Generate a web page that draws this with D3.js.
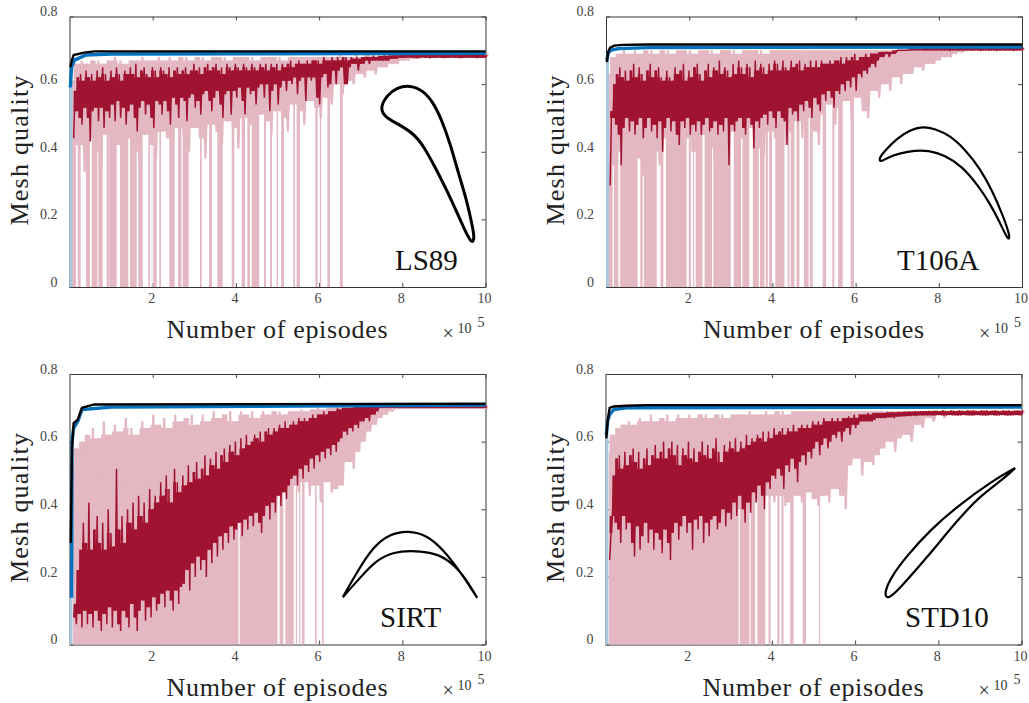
<!DOCTYPE html>
<html><head><meta charset="utf-8">
<script src="https://cdn.jsdelivr.net/npm/d3@7/dist/d3.min.js"></script>
<style>html,body{margin:0;background:#fff}svg{display:block}</style></head>
<body><div id="chart"></div>
<script>
const xTicks=[2,4,6,8,10];
const yTicks=[0,0.2,0.4,0.6,0.8];
const yTickLabels=["0","0.2","0.4","0.6","0.8"];
const names=["LS89","T106A","SIRT","STD10"];
const xLabel="Number of episodes", yLabel="Mesh quality";

// values in hundredths of mesh quality; bins run evenly over episodes 0.1..10 (x1e5)
const ls89DarkUpper=[58,62,63,61,64,62,63,61,64,62,65,63,61,64,62,65,63,61,64,63,
65,63,66,62,64,65,63,62,65,64,62,65,64,63,65,62,64,65,63,64,
65,63,64,66,64,65,63,65,66,64,65,66,64,65,63,66,65,64,66,65,
64,66,65,64,66,65,64,66,65,66,64,66,65,66,64,66,65,66,67,65,
66,67,66,66,67,66,67,67,67,66,68,67,67,68,67,68,67,68,68,67,
68,67.5,68,67.5,68,68,68,68,68.3,68,68.4,68.3,68.5,68.3,68.5,68.5,68.6,68.5,68.6,68.6,
68.6,68.6,68.7,68.6,68.6,68.6,68.7,68.6,68.6,68.6,68.7,68.6,68.6,68.7,68.6,68.6,68.6,68.7,68.6,68.6,
68.6,68.7,68.6,68.6,68.6,68.7,68.6,68.6,68.6,68.6];
const ls89DarkLower=[44,52,50,48,53,50,43,52,53,49,53,47,52,50,54,49,55,50,53,48,
52,54,50,46,53,55,51,54,50,47,55,54,51,55,52,48,56,54,50,56,
55,49,56,57,53,55,51,57,58,55,52,56,58,54,50,57,58,51,58,56,
59,55,51,59,57,58,54,59,60,56,60,52,58,60,54,59,61,58,61,60,
62,57,61,62,55,62,61,62,56,54,62,63,59,60,64,60,64,65,60,60,
65,66,66,64,66,66,67,66,67,67,67,67,67,67,67,67.5,67.5,67.5,67.8,67.8,
67.8,67.9,67.8,67.8,67.7,67.8,67.9,67.8,67.8,67.7,67.8,67.8,67.9,67.8,67.7,67.8,67.8,67.9,67.8,67.8,
67.7,67.8,67.8,67.9,67.8,67.8,67.7,67.8,67.8,67.8];
const ls89LightUpper=[66,67,66,67,67,66,67,68,67,66,67,67,68,67,67,68,67,68,67,68,
68,67,68,68,67,68,68,68,67,68,68,68,68,67,68,68,68,68,67,68,
68,68,68,68,68,68,68,68,69,68,68,69,68,69,69,68,69,69,69,69,
69,69,69,69,69,69,69,69,69,69,69,69,69,69,69,69];
const ls89LightLower=[38,42,34,44,40,36,45,38,42,35,44,40,36,45,42,38,46,44,37,47,
45,40,47,44,38,48,46,42,49,47,41,50,48,44,51,49,45,52,50,46,
54,52,48,55,53,50,56,54,60,57,61,60,63,62,64,63,65,65,66,66,
67,67,67.5,67.5,67.8,67.8,67.8,67.8,67.8,67.8,67.8,67.8,67.8,67.8,67.8,67.8];
const ls89Drops=[[.06,.156],[.197,.269],[.397,.493],[.533,.669],[.693,.798],[.894,.95],[.957,1.134],[1.214,1.414],[1.454,1.615],[1.654,1.76],[1.895,1.935],[1.976,1.99],[2.015,2.096],[2.159,2.2],[2.4,2.53],[2.61,2.69],[2.72,2.865],[3.137,3.178],[3.353,3.425],[3.553,3.683],[3.9,3.962],[4.139,4.219],[4.275,4.339],[4.38,4.56],[4.675,4.724],[4.82,4.868],[4.98,5.012],[5.09,5.156],[5.38,5.42],[5.46,5.54],[5.91,5.965],[6.02,6.05],[6.2,6.26],[6.5,6.57]];
const ls89BlackX=[0.02,0.06,0.1,0.35,0.6,10], ls89BlackY=[.65,.672,.686,.693,.697,.697];
const ls89BlueX=[0.02,0.05,0.12,0.4,1,10], ls89BlueY=[.59,.65,.671,.686,.689,.691];
const ls89Foil=[[7.46,.529],[7.63,.567],[7.87,.59],[8.19,.597],[8.5,.581],[8.75,.545],[8.95,.493],[9.15,.425],[9.35,.336],[9.55,.256],[9.67,.188],[9.74,.145],[9.68,.128],[9.55,.155],[9.31,.222],[9.07,.286],[8.83,.345],[8.5,.42],[8.26,.455],[7.87,.484],[7.58,.503]];

const t106DarkUpper=[52,60,63,65,62,64,61,64,66,62,65,63,61,64,66,62,64,65,62,61,
64,62,61,65,63,64,66,61,64,62,65,66,63,61,64,66,62,65,64,67,
63,65,64,62,66,63,67,65,63,66,65,62,67,64,66,65,63,66,64,67,
66,64,67,65,64,67,65,66,67,64,66,65,67,65,67,65,67,66,66,67,
66,67,67,68,66,68,67,68,69,67,68,68,69,68,69,69,69,69.5,69.5,69.5,
69.5,69.5,70,69.5,70,70,70,70,70.5,70.5,70.5,70.6,70.5,70.6,70.6,70.7,70.6,70.7,70.7,70.7,
70.8,70.7,70.8,70.8,70.7,70.8,70.8,70.8,70.7,70.8,70.8,70.8,70.7,70.8,70.8,70.8,70.8,70.7,70.8,70.8,
70.8,70.8,70.7,70.8,70.8,70.8,70.8,70.7,70.8,70.8];
const t106DarkLower=[30,50,48,45,36,47,50,46,49,45,48,50,44,47,50,46,48,44,49,40,
47,50,46,49,45,42,49,47,50,45,48,46,49,45,48,50,46,47,49,45,
48,46,50,36,48,46,49,50,47,45,50,48,41,49,47,50,51,48,52,50,
47,52,50,49,42,53,51,52,49,54,52,55,53,50,56,54,52,57,55,58,
56,53,58,57,60,58,61,59,62,58,63,62,64,63,65,66,65,67,68,68,
69,68,69,69,70,70,70,70,70,70,70,70,70,70,69.9,70,70,69.9,70,70,
69.9,70,70,69.8,70,70,69.9,70,69.8,70,70,69.9,70,70,69.8,70,70,69.9,70,70,
69.8,70,70,69.9,70,70,69.8,70,70,70];
const t106LightUpper=[68,69,70,69,70,69,70,70,69,70,70,69,70,70,70,69,70,70,70,69,
70,70,70,69,70,70,70,70,69,70,70,70,70,70,70,70,70,70,70,70,
70,70,70,70,70,70,70,70,70,70,70,70,70,70,70,70,70,70,70.5,70.5,
70.5,70.5,70.5,70.5,70.5,70.5,70.5,70.5,70.5,70.5,70.5,70.5,70.5,70.5,70.5,70.5];
const t106LightLower=[30,36,40,34,42,38,33,44,40,36,44,38,42,36,44,40,38,45,41,37,
44,40,46,38,44,42,47,41,39,46,44,48,42,46,49,44,50,46,42,51,
54,48,53,55,50,56,52,50,58,56,60,58,62,60,63,63,65,64,66,66,
67,68,68,69,69.5,70,70,70,70,70,70,70,70,70,70,70];
const t106Drops=[[0,.16],[.19,.30],[.34,.76],[.825,.88],[.91,1.22],[1.31,1.38],[1.44,1.94],[1.99,2.04],[2.09,2.12],[2.155,2.32],[2.37,2.55],[2.58,3.0],[3.07,3.245],[3.28,3.445],[3.53,3.67],[3.70,3.81],[3.84,3.89],[3.92,3.99],[4.07,4.29],[4.37,4.41],[4.44,4.53],[4.58,4.65],[4.76,4.87],[4.90,4.97],[5.21,5.29],[5.44,5.49],[5.58,5.69],[5.88,5.96]];
const t106BlackX=[0.02,0.05,0.1,0.2,0.4,1,10], t106BlackY=[.665,.695,.708,.714,.716,.717,.717];
const t106BlueX=[0.02,0.05,0.1,0.3,1,10], t106BlueY=[.67,.69,.70,.705,.708,.71];
const t106Foil=[[6.56,.381],[6.71,.404],[7,.44],[7.31,.464],[7.6,.475],[7.91,.468],[8.27,.448],[8.63,.407],[8.99,.351],[9.28,.286],[9.54,.212],[9.73,.145],[9.66,.138],[9.47,.191],[9.23,.247],[8.94,.301],[8.56,.357],[8.15,.39],[7.74,.404],[7.43,.404],[7.07,.396],[6.78,.384],[6.59,.368]];

const sirtDarkUpper=[12,22,28,36,30,42,28,34,38,30,36,28,40,33,29,52,34,38,30,40,
36,42,34,44,38,42,36,46,40,44,42,48,44,50,46,42,52,48,45,50,
47,53,48,51,54,49,52,56,50,55,53,57,52,56,58,54,59,57,60,56,
61,58,62,59,60,62,61,63,60,63,64,62,64,63,65,64,66,64,65,66,
65,67,66,67,66,67,68,67,68,68,69,68,69,69,69,70,69.5,70,70,70,
70,70.5,70.3,70.5,70.5,70.6,70.5,70.6,70.6,70.6,70.6,70.6,70.5,70.6,70.6,70.6,70.6,70.6,70.6,70.6,
70.6,70.6,70.5,70.6,70.6,70.6,70.6,70.6,70.5,70.6,70.6,70.6,70.6,70.6,70.6,70.6,70.5,70.6,70.6,70.6,
70.6,70.6,70.6,70.5,70.6,70.6,70.6,70.6,70.6,70.6];
const sirtDarkLower=[8,6,9,5,10,6,9,5,10,7,4,9,6,11,5,10,6,4,10,8,
5,12,8,4,10,13,7,11,8,14,10,12,15,11,16,13,10,16,12,17,
18,22,16,24,20,26,22,25,20,28,24,30,26,32,28,33,30,35,31,34,
36,32,37,34,38,35,39,36,33,38,41,37,42,39,44,41,45,43,47,49,
50,47,52,49,53,51,55,52,56,54,57,55,58,56,59,57,60,61,63,62,
64,63,65,64,66,66,67,66,68,68,69,70,70,70,70,70,70,70,70,70,
70,70,70,70,70,70,70,70,70,70,70,70,70,70,70,70,70,70,70,70,
70,70,70,70,70,70,70,70,70,70];
const sirtLightUpper=[58,60,62,64,61,66,62,65,63,67,64,62,66,64,68,65,67,64,68,66,
67,68,65,68,66,69,67,68,69,66,69,68,69,67,69,68,69,69,68,69,
69,69.5,69,69.5,70,69.5,70,70,70,70,70,70,70,70,70,70,70,70,70,70,
70,70,70,70,70,70,70,70,70,70,70,70,70,70,70,70];
const sirtLightLower=[30,30,30,30,30,30,30,30,30,30,30,30,30,30,30,30,30,30,30,30,
30,30,30,30,30,30,30,30,30,30,40,42,41,43,42,44,45,43,46,44,
47,45,48,44,47,42,48,45,46,47,54,52,57,60,63,65,67,68,69,70,
70,70,70,70,70,70,70,70,70,70,70,70,70,70,70,70];
const sirtDrops=[[.08,4.06],[4.09,5.0],[5.05,5.14],[5.19,5.39],[5.44,5.47],[5.52,5.55],[5.59,5.65],[5.9,5.94],[6.07,6.11]];
const sirtBlackX=[0.03,0.06,0.1,0.2,0.3,0.6,10], sirtBlackY=[.30,.58,.655,.665,.70,.71,.712];
const sirtBlueX=[0.05,0.06,0.1,0.2,0.3,1,10], sirtBlueY=[.138,.6,.64,.66,.695,.702,.708];
const sirtFoil=[[6.57,.14],[6.57,.14],[6.57,.14],[6.9,.212],[7.3,.29],[7.7,.327],[8.14,.337],[8.59,.324],[8.99,.28],[9.39,.216],[9.79,.14],[9.79,.14],[9.79,.14],[9.47,.207],[9.07,.255],[8.67,.273],[8.19,.278],[7.78,.273],[7.38,.25],[6.98,.197]];

const std10DarkUpper=[33,50,55,56,52,57,53,56,58,54,57,52,55,58,53,56,59,55,57,60,
55,58,60,56,59,53,58,56,60,55,58,54,57,60,56,59,55,58,61,57,
54,59,57,60,58,61,57,60,58,62,59,61,60,62,61,63,60,63,61,64,
62,63,64,62,64,63,65,63,64,65,64,65,64,66,65,66,65,67,66,66,
67,66,67,66,67,67,67.5,67,68,67,68,68,68,68.5,68,68.5,68.5,68.5,68.5,68.5,
68.6,68.6,68.7,68.6,68.8,68.7,68.8,68.8,68.9,68.8,69,68.9,69,69,69,69.1,69,69.1,69.1,69,
69.2,69.1,69,69.2,69.1,69,69.2,69.1,69,69.2,69.1,69.2,69.1,69,69.2,69.1,69.2,69,69.1,69.2,
69.1,69,69.2,69.1,69.2,69,69.1,69.2,69.1,69.2];
const std10DarkLower=[25,38,36,34,30,38,34,36,30,26,35,28,32,36,30,34,28,33,31,27,
34,30,25,33,36,31,35,38,33,36,28,37,34,38,30,36,32,37,38,34,
36,40,35,39,37,42,38,44,40,36,42,39,45,42,47,44,40,48,46,50,
49,52,50,46,53,51,55,52,48,54,56,53,57,55,58,60,56,59,61,58,
60,62,61,63,60,63,64,62,65,64,65,66,66,66,66,66,66.5,67,67,67,
67,67.2,67.2,67,67.4,67.4,67.5,67.5,67.6,67.6,67.7,67.6,67.8,67.7,67.8,67.8,67.8,67.7,67.8,67.9,
67.8,67.7,67.8,67.9,67.8,67.8,67.7,67.8,67.9,67.8,67.8,67.7,67.8,67.9,67.8,67.8,67.7,67.8,67.9,67.8,
67.7,67.8,67.9,67.8,67.7,67.8,67.8,67.9,67.8,67.8];
const std10LightUpper=[62,64,65,66,65,67,66,68,66,67,68,66,68,67,68,67,68,68,67,68,
68,67,68,68,68,69,68,68,69,68,69,69,68,69,69,69,69,69,69,69,
69,69,69,69,69,69,69,69,69,69,69,69,69,69,69,69,69,69,69,69,
69,69,69,69,69,69,69,69,69,69,69,69,69,69,69,69];
const std10LightLower=[30,30,30,30,30,30,30,30,30,30,30,30,30,30,30,30,30,30,30,30,30,30,30,30,
40,42,40,43,41,44,42,44,41,42,44,42,45,43,41,44,42,46,44,40,
53,55,50,54,53,56,58,60,57,61,62,60,65,64,67,66,68,67,68,68,
68,68,68,68,68,68,68,68,68,68,68,68];
const std10Drops=[[.08,3.2],[3.23,3.46],[3.49,3.6],[3.65,3.84],[3.92,3.97],[4.13,4.18],[4.23,4.28],[4.44,4.52],[4.74,4.82],[5.13,5.16]];
const std10BlackX=[0.02,0.05,0.1,0.2,0.5,1,10], std10BlackY=[.61,.66,.70,.704,.706,.708,.708];
const std10BlueX=[0.02,0.05,0.1,0.2,0.5,10], std10BlueY=[.62,.66,.68,.695,.70,.702];
const std10Foil=[[9.85,.522],[9.85,.522],[9.85,.522],[9.32,.486],[8.44,.407],[7.8,.338],[7.24,.262],[6.84,.196],[6.69,.146],[6.8,.134],[7.08,.167],[7.72,.256],[8.44,.365],[9,.439],[9.56,.489]];

const panels=[
 {name:names[0],left:69.5,top:16.5,du:ls89DarkUpper,dl:ls89DarkLower,lu:ls89LightUpper,ll:ls89LightLower,drops:ls89Drops,bx:ls89BlackX,by:ls89BlackY,cx:ls89BlueX,cy:ls89BlueY,foil:ls89Foil,fw:3,lx:395,ly:270},
 {name:names[1],left:606,top:16.5,du:t106DarkUpper,dl:t106DarkLower,lu:t106LightUpper,ll:t106LightLower,drops:t106Drops,bx:t106BlackX,by:t106BlackY,cx:t106BlueX,cy:t106BlueY,foil:t106Foil,fw:2.2,lx:897,ly:270},
 {name:names[2],left:69.5,top:374,du:sirtDarkUpper,dl:sirtDarkLower,lu:sirtLightUpper,ll:sirtLightLower,drops:sirtDrops,bx:sirtBlackX,by:sirtBlackY,cx:sirtBlueX,cy:sirtBlueY,foil:sirtFoil,fw:2.2,lx:380,ly:627},
 {name:names[3],left:605.5,top:374,du:std10DarkUpper,dl:std10DarkLower,lu:std10LightUpper,ll:std10LightLower,drops:std10Drops,bx:std10BlackX,by:std10BlackY,cx:std10BlueX,cy:std10BlueY,foil:std10Foil,fw:2.2,lx:905,ly:627}
];
const W=416,H=270.5;
const FONT="'Liberation Serif','Times New Roman',serif";
const svg=d3.select("#chart").append("svg").attr("width",1029).attr("height",703);

panels.forEach(p=>{
  const g=svg.append("g").attr("transform",`translate(${p.left},${p.top})`);
  const x=d3.scaleLinear().domain([0,10]).range([0,W]);
  const y=d3.scaleLinear().domain([0,.8]).range([H,0]);
  const binX=(n,i)=>0.1+i*9.9/(n-1);
  const style=a=>{a.select(".domain").attr("stroke","#333").attr("stroke-width",1);a.selectAll(".tick line").attr("stroke","#444");};
  [d3.axisBottom(x),d3.axisTop(x)].forEach((ax,k)=>{
    const a=g.append("g").attr("transform",`translate(0,${k?0:H})`)
      .call(ax.tickValues(xTicks).tickSize(-4).tickSizeOuter(0).tickFormat(k?"":d=>d));
    style(a);
    a.selectAll("text").attr("font-family",FONT).attr("font-size",14).attr("fill","#444").attr("dx",-1.5).attr("y",11.5).attr("dy",".35em");
  });
  [d3.axisLeft(y),d3.axisRight(y)].forEach((ax,k)=>{
    const a=g.append("g").attr("transform",`translate(${k?W:0},0)`)
      .call(ax.tickValues(yTicks).tickSize(-4).tickSizeOuter(0).tickFormat(k?"":(d,i)=>yTickLabels[i]));
    style(a);
    a.selectAll("text").attr("font-family",FONT).attr("font-size",14).attr("fill","#444").attr("x",-12).attr("dy","-0.05em");
  });
  // a noisy trace: each bin swings between its lower and upper reading
  const swing=(up,lo)=>up.flatMap((u,i)=>[[binX(up.length,i),lo[i]/100],[binX(up.length,i)+4.95/(up.length-1),u/100]]);
  const ln=d3.line().x(d=>x(d[0])).y(d=>y(d[1]));
  // solid core of a trace: the part that neighbouring bins both cover
  const core=(up,lo)=>d3.area().curve(d3.curveStepAfter)
     .x((d,i)=>x(binX(up.length,i)))
     .y0((d,i)=>y(Math.max(lo[i],lo[Math.min(i+1,lo.length-1)])/100))
     .y1((d,i)=>y(Math.min(up[i],up[Math.min(i+1,up.length-1)])/100))(up);
  const LIGHT="#e3b8c3",DARK="#a11431";
  const topAt=d=>p.lu[Math.max(0,Math.round((d[0]-.1)/9.9*(p.lu.length-1)))]/100-.05;
  g.selectAll(".drop").data(p.drops).join("rect").attr("class","drop")
    .attr("x",d=>x(d[0])).attr("width",d=>x(d[1])-x(d[0]))
    .attr("y",d=>y(topAt(d))).attr("height",d=>H-y(topAt(d)))
    .attr("fill",LIGHT);
  g.append("path").attr("d",core(p.lu,p.ll)).attr("fill",LIGHT);
  g.append("path").datum(swing(p.lu,p.ll)).attr("d",ln).attr("fill","none").attr("stroke",LIGHT).attr("stroke-width",2.2).attr("stroke-linejoin","bevel");
  g.append("path").attr("d",core(p.du,p.dl)).attr("fill",DARK);
  g.append("path").datum(swing(p.du,p.dl)).attr("d",ln).attr("fill","none").attr("stroke",DARK).attr("stroke-width",1.5).attr("stroke-linejoin","bevel");
  // light blue start strip, blue and black curves
  g.append("rect").attr("x",x(0)).attr("width",x(.07)-x(0)).attr("y",y(p.cy[0])).attr("height",H-y(p.cy[0])).attr("fill","#a9c8e0");
  g.append("path").datum(d3.zip(p.cx,p.cy)).attr("d",ln).attr("fill","none").attr("stroke","#0072bd").attr("stroke-width",3.4);
  g.append("path").datum(d3.zip(p.bx,p.by)).attr("d",ln).attr("fill","none").attr("stroke","#000").attr("stroke-width",2.4);
  // blade outline
  g.append("path").datum(p.foil).attr("d",d3.line().curve(d3.curveBasisClosed).x(d=>x(d[0])).y(d=>y(d[1])))
    .attr("fill","none").attr("stroke","#000").attr("stroke-width",p.fw).attr("stroke-linejoin","round");
  // text
  const tg=svg.append("g").attr("font-family",FONT);
  tg.append("text").attr("x",p.lx).attr("y",p.ly).attr("font-size",29).attr("fill","#111").text(p.name);
  tg.append("text").attr("x",p.left+97).attr("y",p.top+321.5).attr("font-size",26).attr("fill","#222")
    .attr("textLength",221).text(xLabel);
  tg.append("text").attr("transform",`translate(${p.left-42},${p.top+209}) rotate(-90)`).attr("font-size",26).attr("fill","#222")
    .attr("textLength",150).text(yLabel);
  tg.append("text").attr("x",p.left+373).attr("y",p.top+323).attr("font-size",20).attr("fill","#333").text("×");
  tg.append("text").attr("x",p.left+388).attr("y",p.top+316).attr("font-size",14).attr("fill","#333").text("10");
  tg.append("text").attr("x",p.left+408).attr("y",p.top+310).attr("font-size",14).attr("fill","#333").text("5");
});
</script></body></html>
